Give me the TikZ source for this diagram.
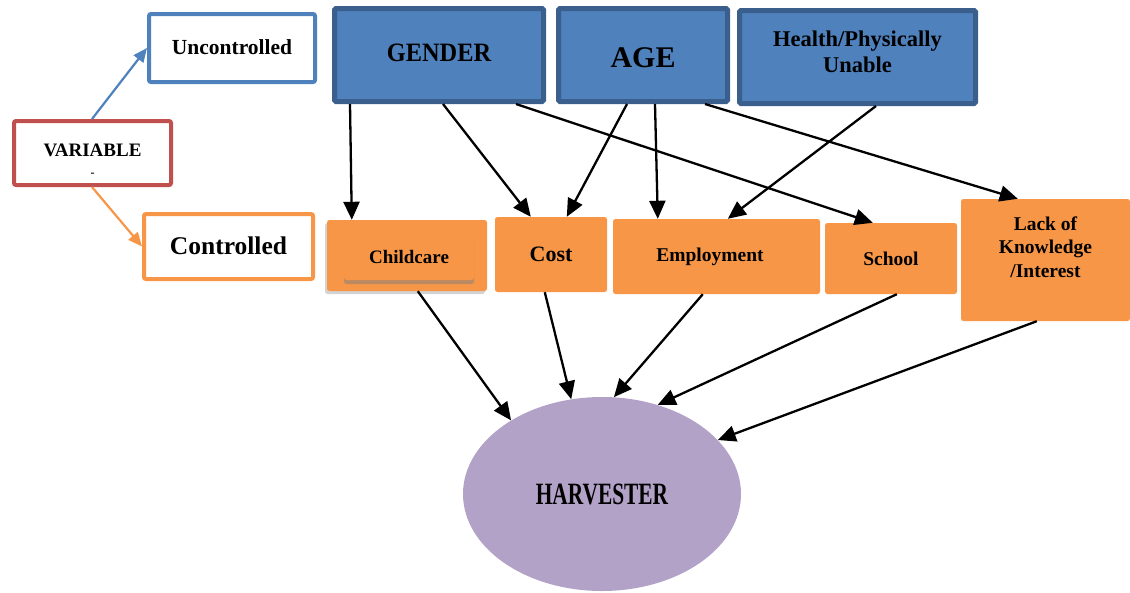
\documentclass[tikz,border=0pt]{standalone}
\usepackage{fontspec}
\setmainfont{Liberation Serif}
\usetikzlibrary{arrows.meta,shadows,shapes.geometric}
\definecolor{bluefill}{HTML}{4F81BD}
\definecolor{blueline}{HTML}{3B5F8C}
\definecolor{blueedge}{HTML}{4F81BD}
\definecolor{orangefill}{HTML}{F79646}
\definecolor{redline}{HTML}{C0504D}
\definecolor{purplefill}{HTML}{B3A2C7}
\newcommand{\fsz}[2]{\fontsize{#1}{#2}\selectfont}
\newcommand{\lift}[2]{\raisebox{#1}[\height][\depth]{#2}}
\begin{document}
\begin{tikzpicture}[x=1pt,y=-1pt,
  catbox/.style={draw=#1, line width=4pt, fill=white, rounded corners=2pt, inner sep=0pt, font=\bfseries},
  topbox/.style={draw=blueline, line width=5pt, fill=bluefill, rounded corners=1.5pt, inner sep=0pt, font=\bfseries},
  factor/.style={fill=orangefill, rounded corners=2.5pt, inner sep=0pt, font=\bfseries},
  link/.style={line width=2.3pt, -{Triangle[length=18pt,width=16pt]}},
  catlink/.style={line width=2.2pt, draw=#1, -{Triangle[length=14pt,width=12pt]}},
]
\useasboundingbox (0,0) rectangle (1130,592);

% category boxes
\node[catbox=blueedge, minimum width=166pt, minimum height=68pt, font=\bfseries\fsz{21.5}{25}] (unc) at (232,48) {\lift{1pt}{Uncontrolled}};
\node[catbox=redline, minimum width=157pt, minimum height=64pt, font=\bfseries\fsz{19}{22}] (var) at (92.5,153) {\lift{-9pt}{\setlength{\tabcolsep}{0pt}\begin{tabular}{c}VARIABLE\\[-2pt]{\fsz{12}{14}-}\end{tabular}}};
\node[catbox=orangefill, minimum width=169pt, minimum height=65pt, font=\bfseries\fsz{25.5}{28}] (con) at (228.5,246.5) {\lift{1pt}{Controlled}};

% uncontrolled variables
\node[topbox, minimum width=209pt, minimum height=93pt] (gender) at (439,55) {\lift{2pt}{\scalebox{0.92}[1]{\fsz{26.5}{30}GENDER}}};
\node[topbox, minimum width=169pt, minimum height=93pt] (age) at (643,55) {\lift{-2.5pt}{\fsz{30}{34}AGE}};
\node[topbox, minimum width=236pt, minimum height=93pt] (health) at (857.5,57) {\lift{2.5pt}{\fsz{22.5}{26}\setlength{\tabcolsep}{0pt}\begin{tabular}{c}Health/Physically\\Unable\end{tabular}}};

% controlled variables
\node[factor, minimum width=160pt, minimum height=71pt, drop shadow={shadow xshift=-2pt, shadow yshift=-3pt, opacity=0.35}] (child) at (407,255.5) {};
\node[factor, minimum width=130pt, minimum height=47pt, drop shadow={shadow xshift=0pt, shadow yshift=-4pt, opacity=0.5}, font=\bfseries\fsz{19}{22}] (childin) at (409,256.5) {Childcare};
\node[factor, minimum width=112pt, minimum height=75pt, font=\bfseries\fsz{22}{25}] (cost) at (551,254.5) {Cost};
\node[factor, minimum width=207pt, minimum height=75pt, font=\bfseries\fsz{19.5}{22}] (emp) at (716.5,256.5) {\hspace*{-13pt}Employment};
\node[factor, minimum width=132pt, minimum height=71pt, font=\bfseries\fsz{19.5}{22}] (school) at (891,258.5) {School};
\node[factor, minimum width=169pt, minimum height=122pt] (lack) at (1045.5,260) {\lift{11pt}{\bfseries\fsz{19.5}{23.5}\setlength{\tabcolsep}{0pt}\begin{tabular}{c}Lack of\\Knowledge\\/Interest\end{tabular}}};

% outcome
\node[ellipse, fill=purplefill, minimum width=278pt, minimum height=194pt, inner sep=0pt, font=\bfseries] (harv) at (602,494) {\scalebox{0.69}[1]{\fsz{31}{34}HARVESTER}};

% category arrows
\draw[catlink=blueedge] ([xshift=80pt]var.north west) -- (unc.west);
\draw[catlink=orangefill] ([xshift=80pt]var.south west) -- (con.west);

% top to middle
\draw[link] ([xshift=18pt]gender.south west) -- ([xshift=25pt]child.north west);
\draw[link] ([xshift=111pt]gender.south west) -- ([xshift=36pt]cost.north west);
\draw[link] ([xshift=184pt]gender.south west) -- ([xshift=48pt]school.north west);
\draw[link] ([xshift=71pt]age.south west) -- ([xshift=72pt]cost.north west);
\draw[link] ([xshift=99pt]age.south west) -- ([xshift=45pt]emp.north west);
\draw[link] ([xshift=149pt]age.south west) -- ([xshift=57pt]lack.north west);
\draw[link] ([xshift=139pt]health.south west) -- ([xshift=115pt]emp.north west);

% middle to harvester
\draw[link] ([xshift=91pt]child.south west) -- (harv.141);
\draw[link] ([xshift=50pt]cost.south west) -- (harv.108);
\draw[link] ([xshift=90pt]emp.south west) -- (harv.83);
\draw[link] ([xshift=72pt]school.south west) -- (harv.58);
\draw[link] ([xshift=76pt]lack.south west) -- (harv.25);
\end{tikzpicture}
\end{document}
